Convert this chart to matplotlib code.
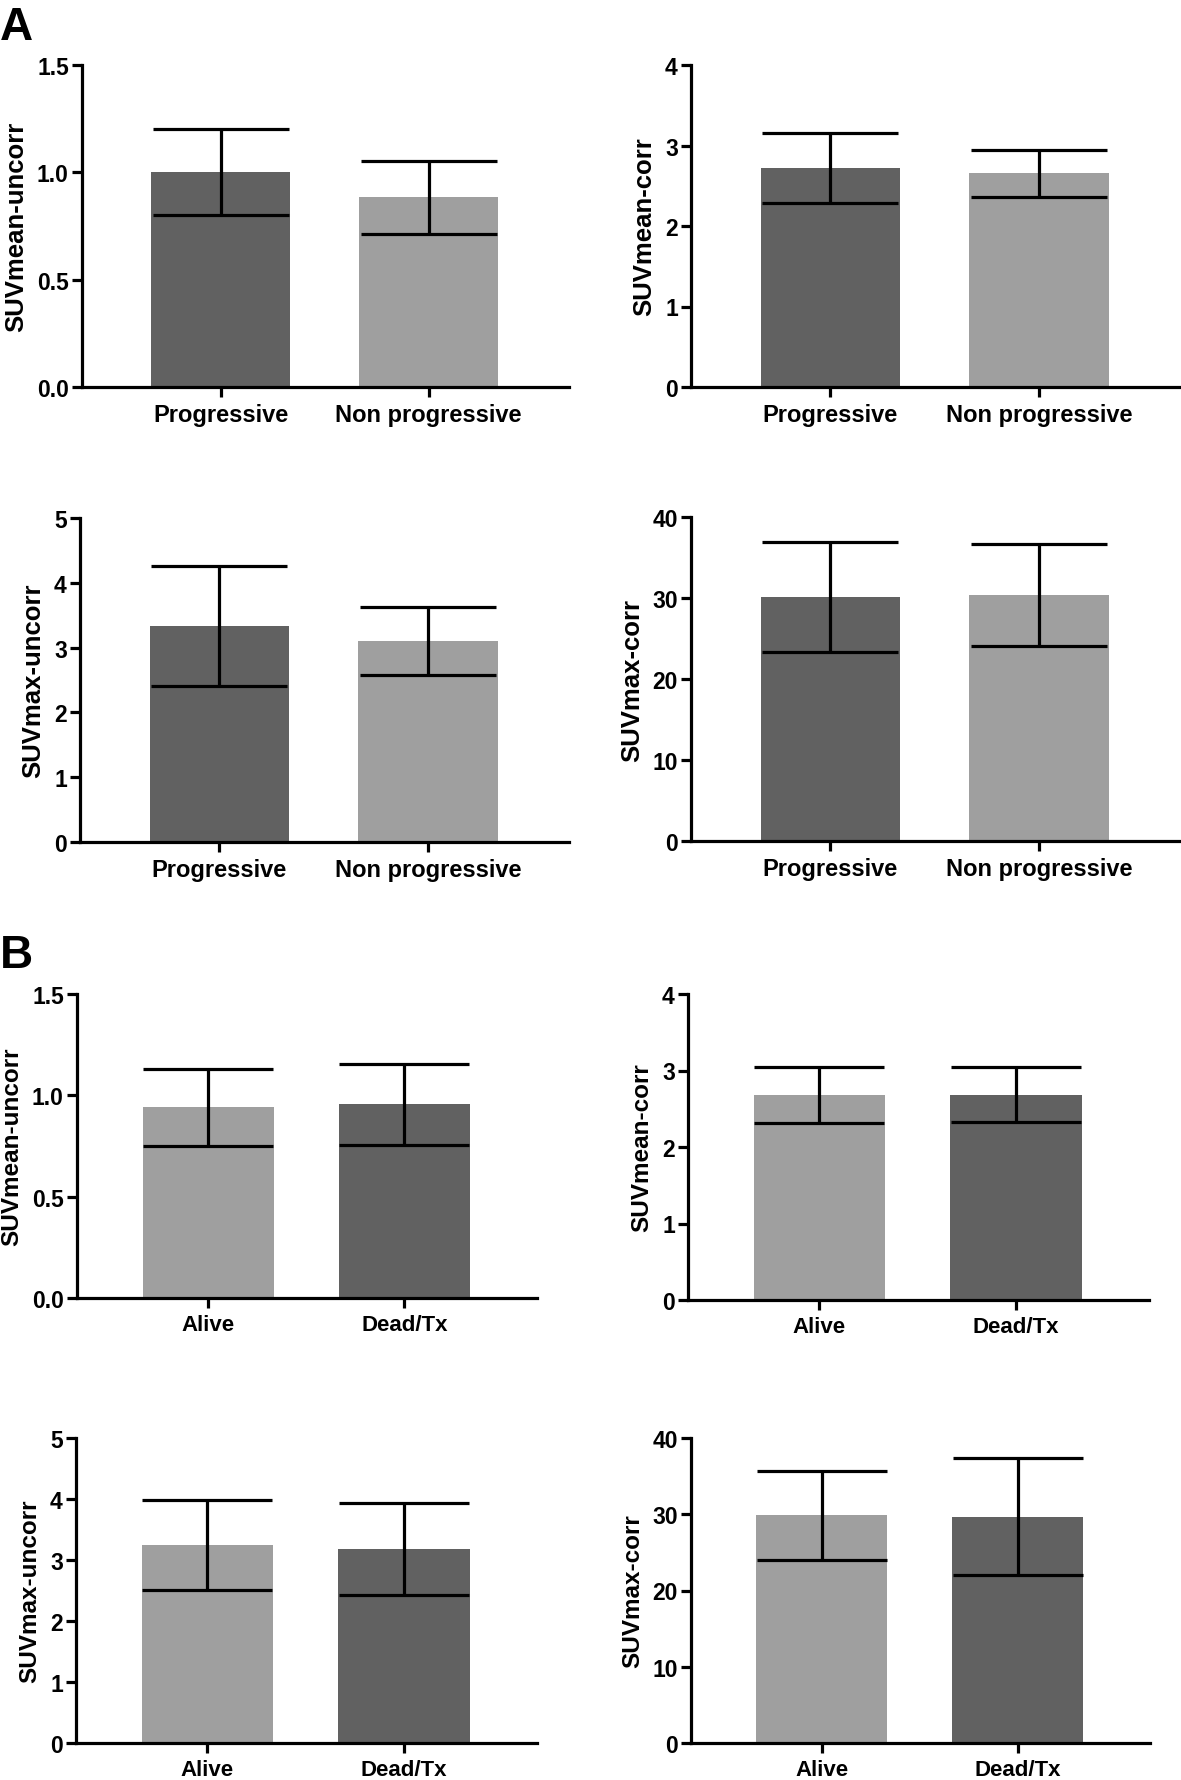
import matplotlib
matplotlib.use('Agg')
import matplotlib.pyplot as plt

plt.rcParams['font.family'] = ['Liberation Sans', 'DejaVu Sans']
plt.rcParams['font.weight'] = 'bold'

W, H = 1181, 1781

cats_a = ['Progressive', 'Non progressive']
cats_b = ['Alive', 'Dead/Tx']

# panel A: means and SD
a_mean_uncorr = [1.0, 0.883]
a_mean_uncorr_err = [0.20, 0.17]
a_mean_corr = [2.715, 2.653]
a_mean_corr_err = [0.435, 0.29]
a_max_uncorr = [3.333, 3.10]
a_max_uncorr_err = [0.92, 0.52]
a_max_corr = [30.1, 30.4]
a_max_corr_err = [6.8, 6.3]

# panel B
b_mean_uncorr = [0.94, 0.955]
b_mean_uncorr_err = [0.19, 0.20]
b_mean_corr = [2.68, 2.685]
b_mean_corr_err = [0.36, 0.355]
b_max_uncorr = [3.25, 3.18]
b_max_uncorr_err = [0.74, 0.75]
b_max_corr = [29.85, 29.7]
b_max_corr_err = [5.8, 7.7]

dark = '#616161'
light = '#9f9f9f'


def add_ax(left, right, top, bottom):
    return fig.add_axes([left / W, 1 - bottom / H, (right - left) / W, (bottom - top) / H])


def bars(ax, cats, vals, errs, colors, ylim, yticks, yfmt, ylabel, xfs, yfs, capsize):
    x = list(range(len(cats)))
    ax.bar(x, vals, width=0.667, color=colors, zorder=1)
    ax.errorbar(x, vals, yerr=errs, fmt='none', ecolor='black', elinewidth=2.3,
                capsize=capsize, capthick=2.3, zorder=2)
    ax.set_xlim(-0.667, 1.675)
    ax.set_ylim(*ylim)
    ax.set_xticks(x)
    ax.set_xticklabels(cats, fontsize=xfs, fontweight='bold')
    ax.set_yticks(yticks)
    ax.set_yticklabels([yfmt.format(t) for t in yticks], fontsize=16.5, fontweight='bold')
    ax.set_ylabel(ylabel, fontsize=yfs, fontweight='bold', labelpad=6)
    for s in ['top', 'right']:
        ax.spines[s].set_visible(False)
    for s in ['left', 'bottom']:
        ax.spines[s].set_linewidth(2.3)
    ax.tick_params(axis='both', length=7.5, width=2.3, pad=2)
    ax.tick_params(axis='x', pad=4)


fig = plt.figure(figsize=(W / 100, H / 100), dpi=100)

ax = add_ax(82, 569, 66, 388)
bars(ax, cats_a, a_mean_uncorr, a_mean_uncorr_err, [dark, light], (0, 1.5),
     [0, 0.5, 1.0, 1.5], '{:.1f}', 'SUVmean-uncorr', 17, 18.5, 49)
ax = add_ax(691, 1180, 66, 388)
bars(ax, cats_a, a_mean_corr, a_mean_corr_err, [dark, light], (0, 4),
     [0, 1, 2, 3, 4], '{:d}', 'SUVmean-corr', 17, 18.5, 49)
ax = add_ax(80, 569, 519, 843)
bars(ax, cats_a, a_max_uncorr, a_max_uncorr_err, [dark, light], (0, 5),
     [0, 1, 2, 3, 4, 5], '{:d}', 'SUVmax-uncorr', 17, 18.5, 49)
ax = add_ax(691, 1180, 518, 842)
bars(ax, cats_a, a_max_corr, a_max_corr_err, [dark, light], (0, 40),
     [0, 10, 20, 30, 40], '{:d}', 'SUVmax-corr', 17, 18.5, 49)

ax = add_ax(77, 537, 995, 1299)
bars(ax, cats_b, b_mean_uncorr, b_mean_uncorr_err, [light, dark], (0, 1.5),
     [0, 0.5, 1.0, 1.5], '{:.1f}', 'SUVmean-uncorr', 16, 17.5, 47)
ax = add_ax(688, 1149, 995, 1301)
bars(ax, cats_b, b_mean_corr, b_mean_corr_err, [light, dark], (0, 4),
     [0, 1, 2, 3, 4], '{:d}', 'SUVmean-corr', 16, 17.5, 47)
ax = add_ax(76, 537, 1439, 1744)
bars(ax, cats_b, b_max_uncorr, b_max_uncorr_err, [light, dark], (0, 5),
     [0, 1, 2, 3, 4, 5], '{:d}', 'SUVmax-uncorr', 16, 17.5, 47)
ax = add_ax(691, 1150, 1439, 1744)
bars(ax, cats_b, b_max_corr, b_max_corr_err, [light, dark], (0, 40),
     [0, 10, 20, 30, 40], '{:d}', 'SUVmax-corr', 16, 17.5, 47)

fig.text(0, 1 - 40 / H, 'A', fontsize=33, fontweight='bold', va='baseline')
fig.text(0, 1 - 968 / H, 'B', fontsize=33, fontweight='bold', va='baseline')

fig.savefig('out.png', dpi=100)
